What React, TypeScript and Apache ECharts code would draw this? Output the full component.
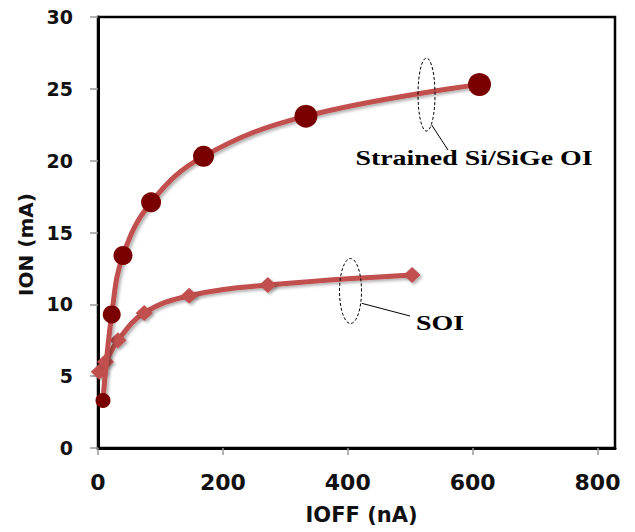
import React, { useEffect, useRef } from "react";
import * as echarts from "echarts";

const strainedIoff = [8, 22, 40, 85, 169, 333, 611];
const strainedIon = [3.3, 9.3, 13.4, 17.1, 20.3, 23.1, 25.3];
const soiIoff = [2, 12, 32, 74, 146, 272, 503];
const soiIon = [5.3, 6.0, 7.5, 9.4, 10.6, 11.35, 12.05];
const xTicks = [0, 200, 400, 600, 800];
const yTicks = [0, 5, 10, 15, 20, 25, 30];
const seriesNames = ["Strained Si/SiGe OI", "SOI"];

const LINE = "#c0504d";
const DARK = "#7a0000";
const circleSizes = [15, 18, 19, 20, 21, 23, 23];

export default function App() {
  const ref = useRef<HTMLDivElement>(null);
  useEffect(() => {
    if (!ref.current) return;
    const chart = echarts.init(ref.current, null, { renderer: "svg" });
    const shadow = {
      shadowColor: "rgba(0,0,0,0.3)",
      shadowBlur: 3,
      shadowOffsetX: 2,
      shadowOffsetY: 2,
    };
    chart.setOption({
      animation: false,
      backgroundColor: "#fff",
      grid: {
        left: 98,
        top: 17,
        right: 20,
        bottom: 84,
        show: true,
        borderColor: "#000",
        borderWidth: 2.5,
      },
      xAxis: {
        type: "value",
        min: 0,
        max: 828,
        interval: 200,
        name: "IOFF (nA)",
        nameLocation: "middle",
        nameGap: 56,
        nameTextStyle: {
          fontFamily: "DejaVu Sans",
          fontWeight: "bold",
          fontSize: 21,
          color: "#111",
          padding: [0, 0, 0, 10],
        },
        axisLine: { lineStyle: { color: "#000", width: 3 } },
        axisTick: {
          show: true,
          length: 7,
          lineStyle: { color: "#999", width: 1.5 },
          customValues: xTicks,
        },
        axisLabel: {
          margin: 23,
          fontFamily: "DejaVu Sans",
          fontWeight: "bold",
          fontSize: 22,
          color: "#111",
          customValues: xTicks,
          formatter: (v: number) => (xTicks.includes(v) ? String(v) : ""),
        },
        splitLine: { show: false },
      },
      yAxis: {
        type: "value",
        min: 0,
        max: 30,
        interval: 5,
        name: "ION (mA)",
        nameLocation: "middle",
        nameGap: 61,
        nameTextStyle: {
          fontFamily: "DejaVu Sans",
          fontWeight: "bold",
          fontSize: 20,
          color: "#111",
          padding: [0, 24, 0, 0],
        },
        axisLine: { show: true, lineStyle: { color: "#000", width: 3 } },
        axisTick: {
          show: true,
          length: 8,
          lineStyle: { color: "#999", width: 1.5 },
        },
        axisLabel: {
          margin: 25,
          fontFamily: "DejaVu Sans",
          fontWeight: "bold",
          fontSize: 19,
          color: "#111",
          formatter: (v: number) => (yTicks.includes(v) ? String(v) : ""),
        },
        splitLine: { show: false },
      },
      series: [
        {
          name: seriesNames[1],
          type: "line",
          smooth: 0.4,
          data: soiIoff.map((x, i) => [x, soiIon[i]]),
          symbol: "diamond",
          symbolSize: [17, 16],
          itemStyle: { color: LINE, ...shadow },
          lineStyle: { color: LINE, width: 5, ...shadow },
          z: 2,
        },
        {
          name: seriesNames[0],
          type: "line",
          smooth: 0.4,
          data: strainedIoff.map((x, i) => [x, strainedIon[i]]),
          symbol: "circle",
          symbolSize: (_v: any, p: any) => circleSizes[p.dataIndex] ?? 20,
          itemStyle: { color: DARK },
          lineStyle: { color: LINE, width: 5, ...shadow },
          z: 3,
        },
      ],
      graphic: [
        {
          type: "ellipse",
          shape: { cx: 426.5, cy: 94.5, rx: 8.5, ry: 36.5 },
          style: { fill: "none", stroke: "#000", lineWidth: 1, lineDash: [3, 2] },
          z: 10,
        },
        {
          type: "line",
          shape: { x1: 431.7, y1: 125, x2: 448, y2: 150 },
          style: { stroke: "#000", lineWidth: 1 },
          z: 10,
        },
        {
          type: "text",
          x: 474,
          y: 158,
          scaleX: 1.33,
          style: {
            text: seriesNames[0],
            fontFamily: "Liberation Serif",
            fontWeight: "bold",
            fontSize: 21,
            fill: "#000",
            align: "center",
            verticalAlign: "middle",
          },
          z: 10,
        },
        {
          type: "ellipse",
          shape: { cx: 350.5, cy: 291, rx: 11, ry: 32.5 },
          style: { fill: "none", stroke: "#000", lineWidth: 1, lineDash: [3, 2] },
          z: 10,
        },
        {
          type: "line",
          shape: { x1: 361.7, y1: 303.3, x2: 410, y2: 316 },
          style: { stroke: "#000", lineWidth: 1 },
          z: 10,
        },
        {
          type: "text",
          x: 440,
          y: 323,
          scaleX: 1.33,
          style: {
            text: seriesNames[1],
            fontFamily: "Liberation Serif",
            fontWeight: "bold",
            fontSize: 21,
            fill: "#000",
            align: "center",
            verticalAlign: "middle",
          },
          z: 10,
        },
      ],
    });
    return () => chart.dispose();
  }, []);
  return (
    <div
      ref={ref}
      style={{ position: "fixed", left: 0, top: 0, width: 635, height: 532 }}
    />
  );
}
